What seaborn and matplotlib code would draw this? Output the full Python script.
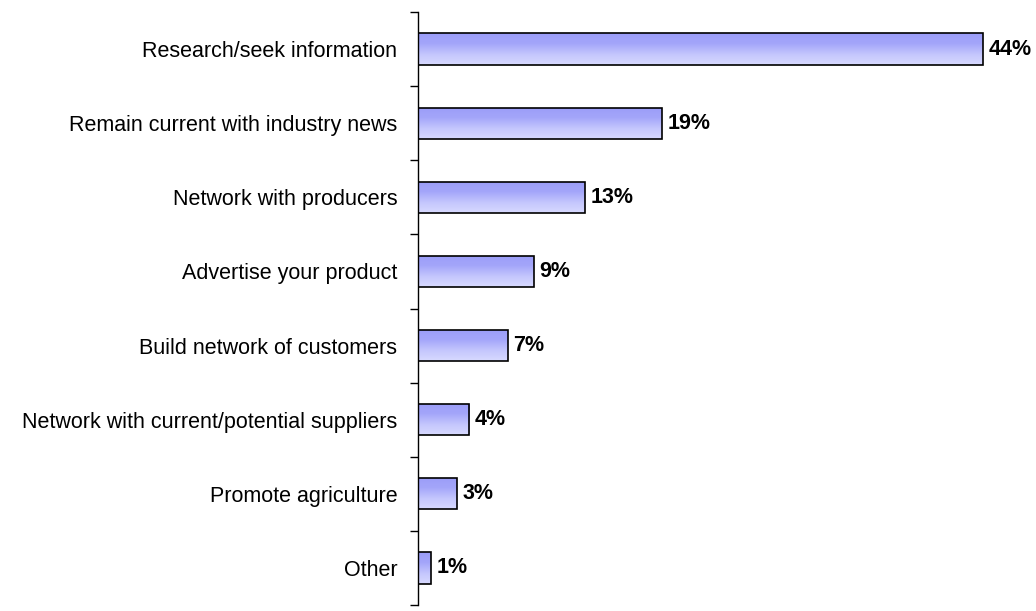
import numpy as np
import pandas as pd
import matplotlib
matplotlib.use("Agg")
import matplotlib.pyplot as plt
from matplotlib.colors import LinearSegmentedColormap
import seaborn as sns

categories = [
    "Research/seek information",
    "Remain current with industry news",
    "Network with producers",
    "Advertise your product",
    "Build network of customers",
    "Network with current/potential suppliers",
    "Promote agriculture",
    "Other",
]
values = [44, 19, 13, 9, 7, 4, 3, 1]

df = pd.DataFrame({"category": categories, "value": values})

sns.set_theme(style="white")
plt.rcParams["font.family"] = ["Liberation Sans", "DejaVu Sans"]

W, H = 1036, 611
fig = plt.figure(figsize=(W / 100, H / 100), dpi=100)
ax = fig.add_axes([418 / W, 6 / H, (1034 - 418) / W, (605 - 12) / H])

sns.barplot(data=df, y="category", x="value", orient="h", ax=ax,
            width=0.42, color="#aaaaff", edgecolor="black", linewidth=1.2)

# vertical gradient fill inside each bar
grad_cmap = LinearSegmentedColormap.from_list(
    "bar_grad", ["#9a9cf8", "#a4a6fa", "#c4c6fd", "#d8daff"])
gradient = np.linspace(0, 1, 256).reshape(-1, 1)
for patch in ax.patches:
    x0, y0 = patch.get_x(), patch.get_y()
    w, h = patch.get_width(), patch.get_height()
    im = ax.imshow(gradient, cmap=grad_cmap, aspect="auto",
                   extent=(x0, x0 + w, y0 + h, y0), origin="upper",
                   zorder=patch.get_zorder() - 0.1)
    im.set_clip_path(patch)
    patch.set_facecolor("none")
    patch.set_zorder(patch.get_zorder() + 1)

ax.set_xlim(0, 48)
ax.set_ylim(len(categories) - 0.5, -0.5)

for i, v in enumerate(values):
    ax.text(v + 0.45, i, f"{v}%", va="center", ha="left",
            fontsize=15.5, fontweight="bold", color="black")

for side in ["top", "right", "bottom"]:
    ax.spines[side].set_visible(False)
ax.spines["left"].set_color("black")
ax.spines["left"].set_linewidth(1.0)

ax.set_xticks([])
ax.set_xlabel("")
ax.set_ylabel("")
ax.tick_params(axis="y", which="major", length=0, pad=15, labelsize=15.5,
               labelcolor="black")
ax.set_yticks(np.arange(-0.5, len(categories), 1.0), minor=True)
ax.tick_params(axis="y", which="minor", length=6, width=1.0, color="black",
               direction="out", left=True)

fig.savefig("out.png", dpi=100)
